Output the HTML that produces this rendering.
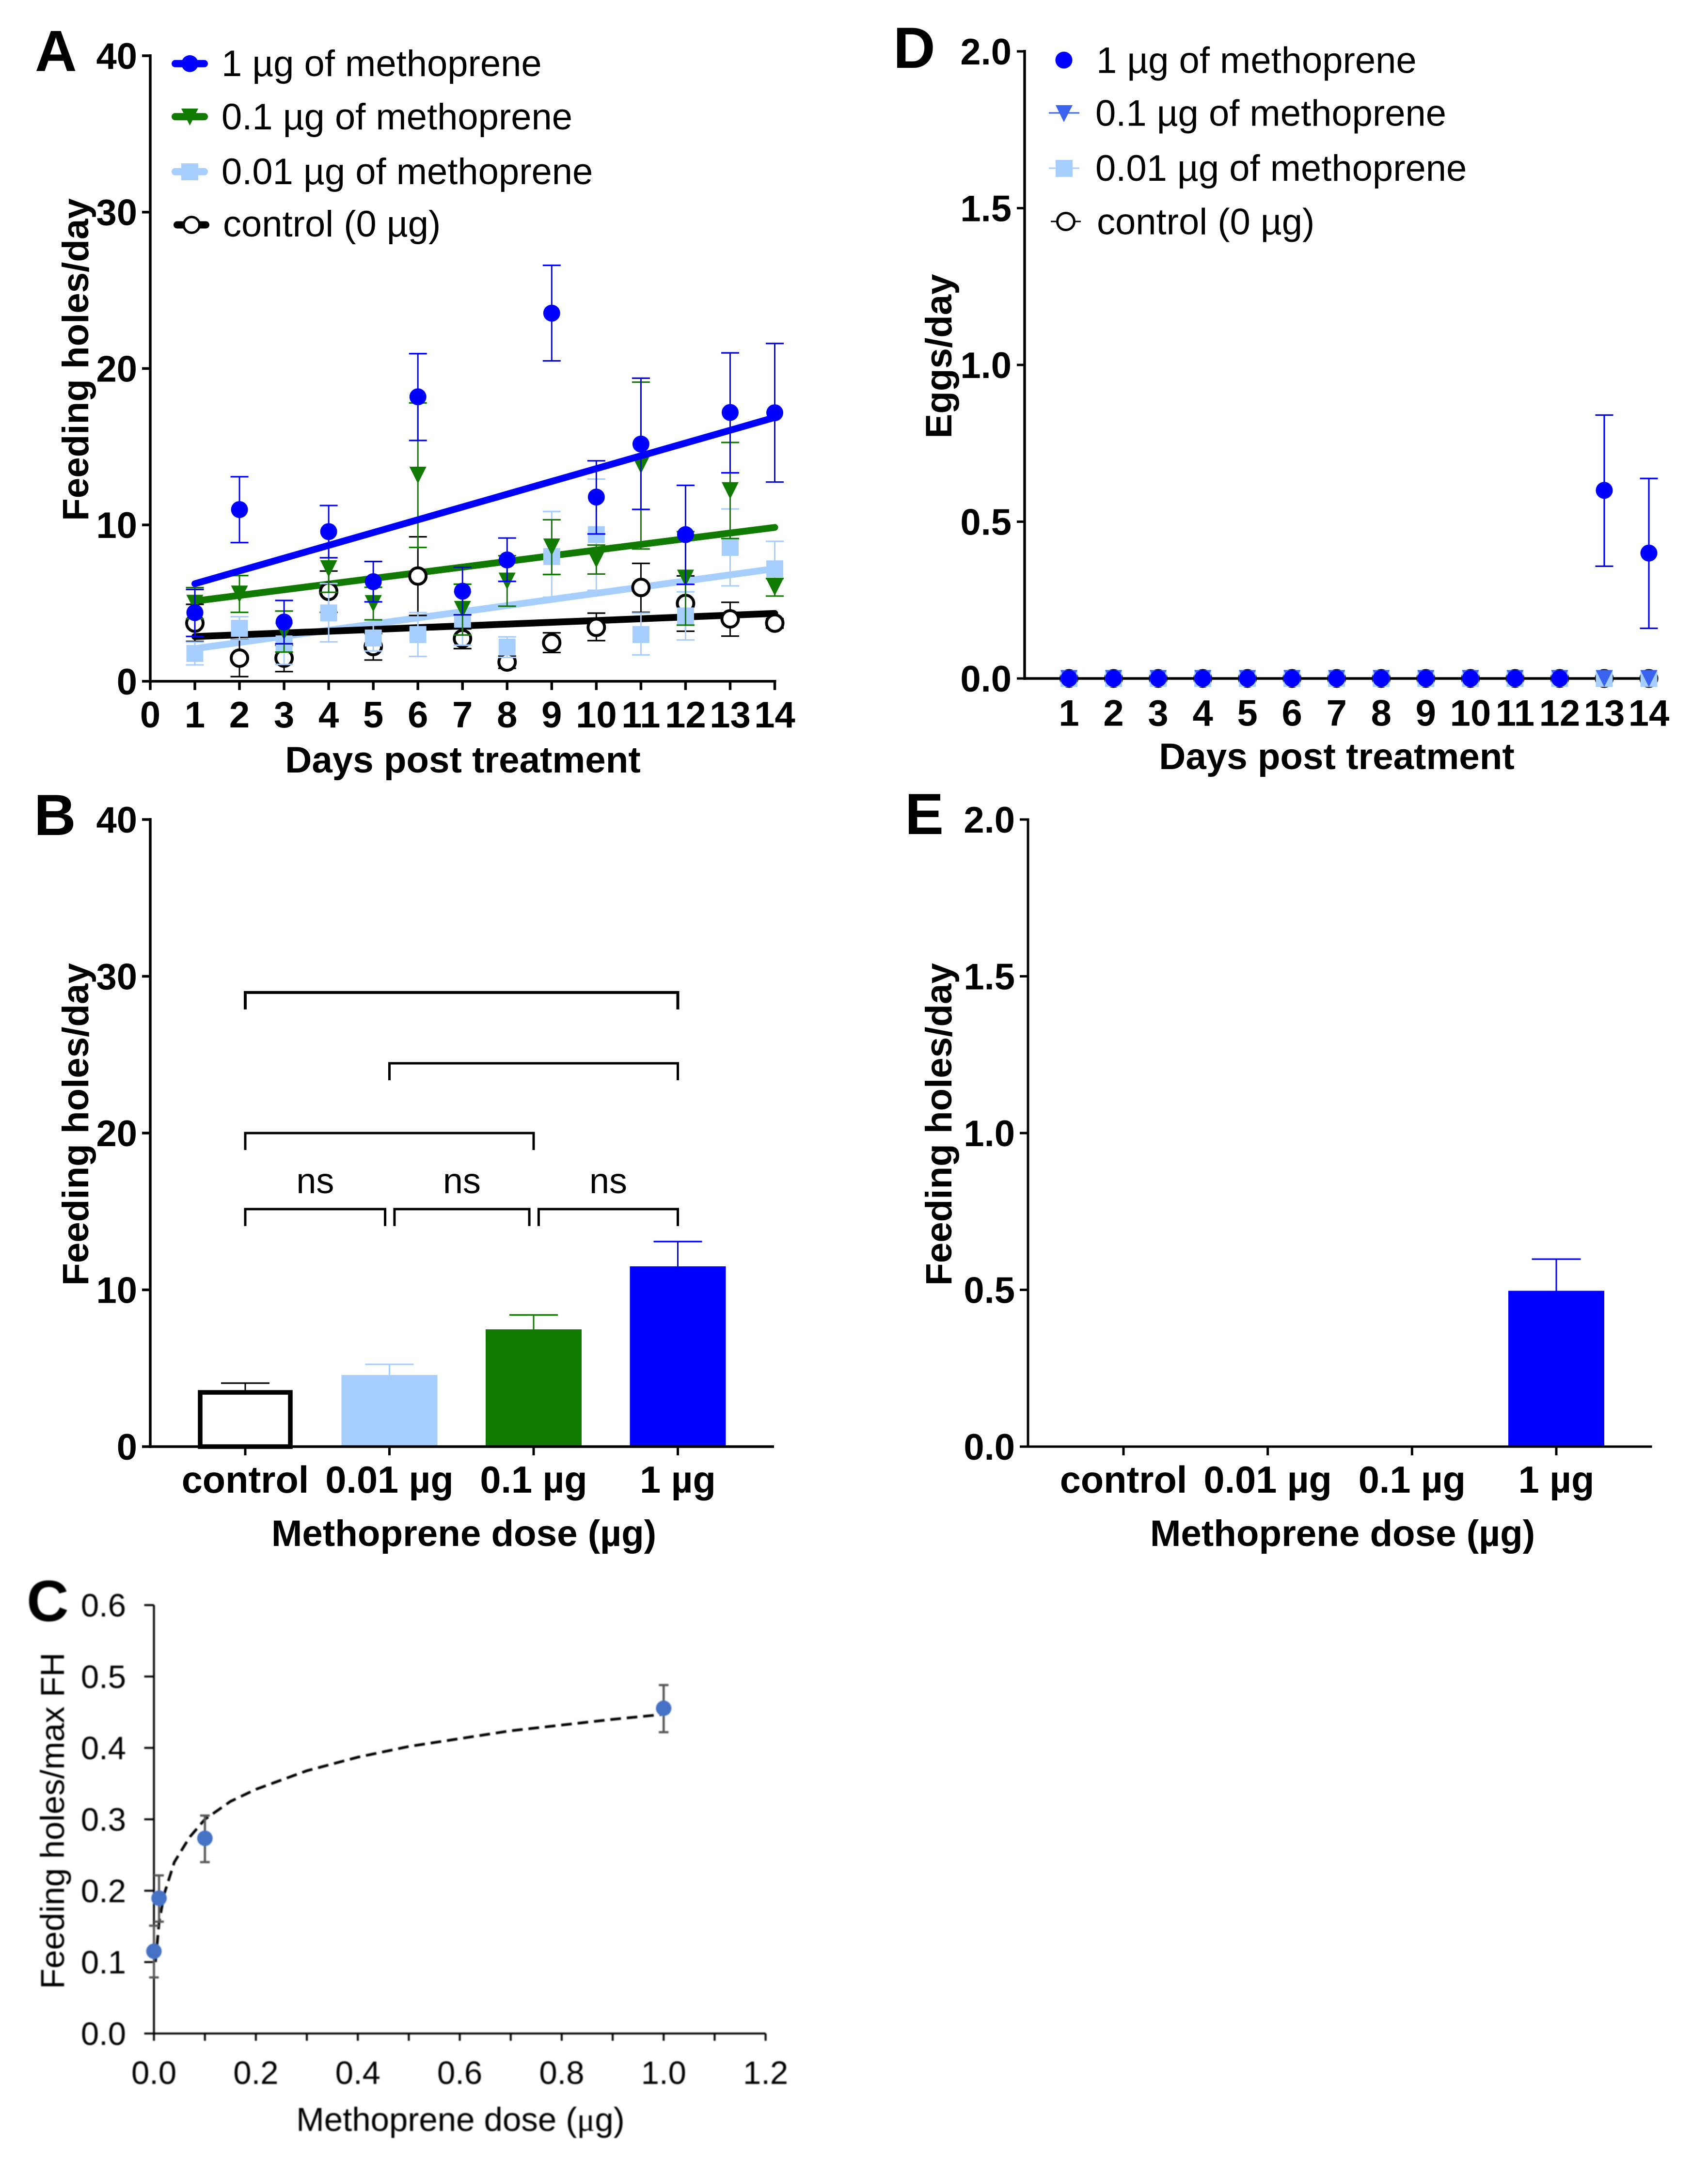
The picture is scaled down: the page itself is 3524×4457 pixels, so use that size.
<!DOCTYPE html>
<html lang="en">
<head>
<meta charset="utf-8">
<title>Methoprene dose response</title>
<style>
html,body{margin:0;padding:0;background:#fff;}
svg{display:block;}
text{font-family:"Liberation Sans",sans-serif;fill:#000;}
.panel-letter{font-weight:bold;font-size:120px;}
.tick{font-weight:bold;font-size:76px;}
.title{font-weight:bold;font-size:76.3px;}
.xcat{font-weight:bold;font-size:77.5px;}
.legend{font-size:76px;}
.ns{font-size:74px;}
.reg{font-size:67px;}
.title-c{font-size:69px;}
.mu{font-family:"Liberation Serif",serif;}
</style>
</head>
<body>
<svg id="figure" xmlns="http://www.w3.org/2000/svg" width="3524" height="4457" viewBox="0 0 3524 4457">
  <defs><filter id="soft" x="-5%" y="-5%" width="110%" height="110%"><feGaussianBlur stdDeviation="1"/></filter></defs>
  <rect x="0" y="0" width="3524" height="4457" fill="#fff"/>

  <g id="panel-a">
    <text class="panel-letter" x="72" y="146.7">A</text>
    <text class="title" text-anchor="middle" transform="translate(182,742) rotate(-90)">Feeding holes/day</text>
    <text class="title" text-anchor="middle" x="955" y="1594">Days post treatment</text>
  </g>
  <g id="panel-a-legend">
    <line x1="361.5" y1="131.3" x2="421.5" y2="131.3" stroke="#0000ff" stroke-width="15" stroke-linecap="round"/>
    <circle cx="391.7" cy="131.3" r="17.4" fill="#0000ff"/>
    <text class="legend" x="457" y="157">1 µg of methoprene</text>
    <line x1="361.5" y1="240.7" x2="421.5" y2="240.7" stroke="#117a00" stroke-width="15" stroke-linecap="round"/>
    <polygon points="374,224 409,224 391.7,259" fill="#117a00"/>
    <text class="legend" x="457" y="267">0.1 µg of methoprene</text>
    <line x1="361.5" y1="354.3" x2="421.5" y2="354.3" stroke="#a6cfff" stroke-width="15" stroke-linecap="round"/>
    <rect x="374" y="337" width="35" height="35" fill="#a6cfff"/>
    <text class="legend" x="457" y="380">0.01 µg of methoprene</text>
    <line x1="365.5" y1="464" x2="424.5" y2="464" stroke="#000" stroke-width="15" stroke-linecap="round"/>
    <circle cx="395.3" cy="464" r="16.3" fill="#fff" stroke="#000" stroke-width="5"/>
    <text class="legend" x="460" y="488">control (0 µg)</text>
  </g>

  <g id="panel-d">
    <text class="panel-letter" x="1843" y="140">D</text>
    <text class="title" text-anchor="middle" transform="translate(1963,735) rotate(-90)">Eggs/day</text>
    <text class="title" text-anchor="middle" x="2758" y="1587">Days post treatment</text>
  </g>
  <g id="panel-d-legend">
    <circle cx="2195" cy="124" r="17.5" fill="#0000ff"/>
    <text class="legend" x="2262" y="150.7">1 µg of methoprene</text>
    <line x1="2164" y1="233" x2="2227" y2="233" stroke="#3a63ef" stroke-width="3"/>
    <polygon points="2178,217 2213,217 2195,252" fill="#3a63ef"/>
    <text class="legend" x="2260" y="259.5">0.1 µg of methoprene</text>
    <line x1="2164" y1="347" x2="2227" y2="347" stroke="#a6cfff" stroke-width="3"/>
    <rect x="2178" y="330" width="35" height="35" fill="#a6cfff"/>
    <text class="legend" x="2260" y="373">0.01 µg of methoprene</text>
    <line x1="2168" y1="457" x2="2230" y2="457" stroke="#000" stroke-width="3"/>
    <circle cx="2199" cy="457" r="17.5" fill="#fff" stroke="#000" stroke-width="5"/>
    <text class="legend" x="2263" y="483.5">control (0 µg)</text>
  </g>

  <g id="panel-b">
    <text class="panel-letter" x="70" y="1723">B</text>
    <text class="title" text-anchor="middle" transform="translate(182,2320) rotate(-90)">Feeding holes/day</text>
    <text class="title" text-anchor="middle" x="957" y="3190">Methoprene dose (µg)</text>
  </g>

  <g id="panel-e">
    <text class="panel-letter" x="1867" y="1721">E</text>
    <text class="title" text-anchor="middle" transform="translate(1963,2320) rotate(-90)">Feeding holes/day</text>
    <text class="title" text-anchor="middle" x="2770" y="3190">Methoprene dose (µg)</text>
  </g>

  <g id="panel-c" filter="url(#soft)">
    <text class="panel-letter" x="55" y="3345">C</text>
    <text class="title-c" text-anchor="middle" transform="translate(132,3757) rotate(-90)">Feeding holes/max FH</text>
    <text class="title-c" text-anchor="middle" x="950" y="4397">Methoprene dose (<tspan class="mu">μ</tspan>g)</text>
  </g>
</svg>

<script>
// ---------- Panel A data (feeding holes per day) ----------
const dayCategories = [1,2,3,4,5,6,7,8,9,10,11,12,13,14];
const holes1Mean  = [4.39,10.98,3.79,9.57,6.37,18.19,5.76,7.76,23.54,11.78,15.17,9.38,17.19,17.17];
const holes1Upper = [5.87,13.08,5.17,11.24,7.66,20.95,7.29,9.16,26.6,14.1,19.38,12.53,21.0,21.6];
const holes1Lower = [2.87,8.87,2.4,7.9,5.08,15.4,4.25,6.39,20.49,9.42,10.99,6.2,13.33,12.74];
const holes01Mean  = [4.99,5.58,3.18,7.2,4.97,13.18,4.6,6.41,8.59,7.79,13.82,6.6,12.19,6.01];
const holes01Upper = [5.99,6.76,4.49,8.7,6.01,17.8,6.21,8.03,10.33,8.71,19.13,9.57,15.27,6.57];
const holes01Lower = [4.0,4.41,1.87,5.69,3.93,8.56,2.96,4.8,6.83,6.86,8.46,3.59,9.13,5.45];
const holes001Mean  = [1.78,3.39,2.39,4.37,2.77,2.99,3.97,2.19,7.98,9.38,2.99,4.18,8.56,7.19];
const holes001Upper = [2.5,4.13,3.7,6.25,3.6,4.39,5.72,2.84,10.86,12.93,4.36,5.72,11.02,8.95];
const holes001Lower = [1.05,2.65,1.08,2.52,1.94,1.59,2.31,1.53,5.38,5.82,1.69,2.64,6.1,5.45];
const holesCtrlMean  = [3.72,1.48,1.48,5.75,2.22,6.73,2.73,1.23,2.47,3.45,6.0,4.98,3.99,3.72];
const holesCtrlUpper = [4.92,2.67,2.3,7.05,3.05,9.24,3.35,1.61,3.1,4.36,7.54,6.74,5.05,4.0];
const holesCtrlLower = [2.55,0.3,0.62,4.41,1.36,4.21,2.09,0.83,1.84,2.6,4.41,3.2,2.89,3.4];
const trendDays = [1,14];
const trend1    = [6.24,16.87];
const trend01   = [5.13,9.84];
const trend001  = [2.09,7.2];
const trendCtrl = [2.86,4.34];
const panelAXTicks = [0,1,2,3,4,5,6,7,8,9,10,11,12,13,14];
const panelAYTicks = [0,10,20,30,40];

// ---------- Panel D data (eggs per day) ----------
const eggs1Mean  = [0,0,0,0,0,0,0,0,0,0,0,0,0.6,0.4];
const eggs1Upper = [0,0,0,0,0,0,0,0,0,0,0,0,0.84,0.638];
const eggs1Lower = [0,0,0,0,0,0,0,0,0,0,0,0,0.358,0.16];
const eggs01Mean  = [0,0,0,0,0,0,0,0,0,0,0,0,0,0];
const eggs001Mean = [0,0,0,0,0,0,0,0,0,0,0,0,0,0];
const eggsCtrlMean = [0,0,0,0,0,0,0,0,0,0,0,0,0,0];
const panelDYTicks = ["0.0","0.5","1.0","1.5","2.0"];

// ---------- Panel B / E data ----------
const doseCategories = ["control","0.01 µg","0.1 µg","1 µg"];
const holesByDoseMean  = [3.46,4.57,7.48,11.5];
const holesByDoseUpper = [4.05,5.25,8.4,13.08];
const panelBYTicks = [0,10,20,30,40];
const bracketFrom  = [0,1,0,0,1.035,2.035];
const bracketTo    = [3,3,2,0.97,1.97,3];
const bracketLevel = [28.97,24.45,20.0,15.15,15.15,15.15];
const bracketLabels = ["","","","ns","ns","ns"];

const eFeedingMean  = [0,0,0,0.497];
const eFeedingUpper = [0,0,0,0.598];
const panelEYTicks = ["0.0","0.5","1.0","1.5","2.0"];

// ---------- Panel C data ----------
const normDose  = [0,0.01,0.1,1.0];
const normMean  = [0.1152,0.1895,0.2734,0.4555];
const normUpper = [0.151,0.2214,0.3053,0.488];
const normLower = [0.0786,0.1566,0.24,0.422];
const fitDose  = [0.003,0.01,0.02,0.04,0.07,0.1,0.15,0.2,0.3,0.4,0.5,0.6,0.7,0.8,0.9,1.0];
const fitValue = [0.10,0.155,0.195,0.24,0.275,0.30,0.325,0.342,0.368,0.387,0.402,0.413,0.424,0.432,0.44,0.447];
const panelCXTicks = ["0.0","0.2","0.4","0.6","0.8","1.0","1.2"];
const panelCYTicks = ["0.0","0.1","0.2","0.3","0.4","0.5","0.6"];
const panelCXMinorTicks = [0,0.1,0.2,0.3,0.4,0.5,0.6,0.7,0.8,0.9,1.0,1.1,1.2];

// ---------- drawing helpers ----------
const NS = 'http://www.w3.org/2000/svg';
function add(parent, tag, name, attrs, text) {
  const el = document.createElementNS(NS, tag);
  for (const k in attrs) el.setAttribute(k, attrs[k]);
  
  
  if (text !== undefined) el.textContent = text;
  parent.appendChild(el);
  return el;
}
function linear(d0, d1, r0, r1) {
  return function (v) { return r0 + (v - d0) * (r1 - r0) / (d1 - d0); };
}
function seg(p, name, x1, y1, x2, y2, color, w, cap) {
  return add(p, 'line', name, {x1:x1, y1:y1, x2:x2, y2:y2, stroke:color, 'stroke-width':w, 'stroke-linecap':cap || 'butt'});
}
function errorBar(p, name, x, yUp, yLo, color, stemW, capW, capH) {
  seg(p, name + '-stem', x, yUp, x, yLo, color, stemW);
  seg(p, name + '-cap-upper', x - capW / 2, yUp, x + capW / 2, yUp, color, capH);
  seg(p, name + '-cap-lower', x - capW / 2, yLo, x + capW / 2, yLo, color, capH);
}
function upperError(p, name, x, yUp, yBase, color, stemW, capW, capH) {
  seg(p, name + '-stem', x, yUp, x, yBase, color, stemW);
  seg(p, name + '-cap', x - capW / 2, yUp, x + capW / 2, yUp, color, capH);
}
function marker(p, kind, name, x, y, color) {
  const s = 17.5;
  if (kind === 'circle') return add(p, 'circle', name, {cx:x, cy:y, r:s, fill:color});
  if (kind === 'square') return add(p, 'rect', name, {x:x - s, y:y - s, width:2 * s, height:2 * s, fill:color});
  if (kind === 'triangle') return add(p, 'polygon', name, {points:(x - s) + ',' + (y - s) + ' ' + (x + s) + ',' + (y - s) + ' ' + x + ',' + (y + s), fill:color});
  return add(p, 'circle', name, {cx:x, cy:y, r:17, fill:'#fff', stroke:color, 'stroke-width':6});
}
function tickLabel(p, name, x, y, anchor, text, cls) {
  return add(p, 'text', name, {x:x, y:y, 'text-anchor':anchor, 'class':cls || 'tick'}, text);
}

// ---------- Panel A ----------
(function () {
  const p = document.getElementById('panel-a');
  const X = linear(0, 14, 310, 1598.5);
  const Y = linear(0, 40, 1405.8, 115);
  const BLUE = '#0000ff', GREEN = '#117a00', LIGHT = '#a6cfff', BLACK = '#000';
  function trend(values, color, name) {
    seg(p, name, X(trendDays[0]), Y(values[0]), X(trendDays[1]), Y(values[1]), color, 14, 'round');
  }
  function series(mean, up, lo, color, kind, name) {
    dayCategories.forEach(function (d, i) {
      errorBar(p, name + '-error-day-' + d, X(d), Y(up[i]), Y(lo[i]), color, 3, 37, 3.2);
    });
    dayCategories.forEach(function (d, i) {
      marker(p, kind, name + '-point-day-' + d, X(d), Y(mean[i]), color);
    });
  }
  trend(trend001, LIGHT, 'trend-001ug');
  trend(trendCtrl, BLACK, 'trend-control');
  trend(trend01, GREEN, 'trend-01ug');
  series(holesCtrlMean, holesCtrlUpper, holesCtrlLower, BLACK, 'open', 'control');
  series(holes001Mean, holes001Upper, holes001Lower, LIGHT, 'square', 'dose-001ug');
  series(holes01Mean, holes01Upper, holes01Lower, GREEN, 'triangle', 'dose-01ug');
  trend(trend1, BLUE, 'trend-1ug');
  series(holes1Mean, holes1Upper, holes1Lower, BLUE, 'circle', 'dose-1ug');
  seg(p, 'panel-a-y-axis', 310, Y(0) + 3, 310, Y(40) - 3, BLACK, 5.5);
  seg(p, 'panel-a-x-axis', 307, Y(0), X(14) + 3, Y(0), BLACK, 5.5);
  panelAYTicks.forEach(function (v) {
    seg(p, 'panel-a-y-tick-' + v, 293, Y(v), 310, Y(v), BLACK, 5.5);
    tickLabel(p, 'panel-a-y-label-' + v, 283, Y(v) + 27, 'end', String(v));
  });
  panelAXTicks.forEach(function (v) {
    seg(p, 'panel-a-x-tick-' + v, X(v), Y(0), X(v), Y(0) + 18, BLACK, 5.5);
    tickLabel(p, 'panel-a-x-label-' + v, X(v), 1501, 'middle', String(v));
  });
})();

// ---------- Panel D ----------
(function () {
  const p = document.getElementById('panel-d');
  const X = linear(1, 14, 2205.5, 3402);
  const Y = linear(0, 2, 1400, 106);
  const BLACK = '#000';
  seg(p, 'panel-d-y-axis', 2114, Y(0) + 3, 2114, Y(2) - 3, BLACK, 5.5);
  seg(p, 'panel-d-x-axis', 2114, Y(0), X(14), Y(0), BLACK, 5.5);
  panelDYTicks.forEach(function (t) {
    const v = parseFloat(t);
    seg(p, 'panel-d-y-tick-' + t, 2098, Y(v), 2114, Y(v), BLACK, 5);
    tickLabel(p, 'panel-d-y-label-' + t, 2087, Y(v) + 27, 'end', t);
  });
  dayCategories.forEach(function (d, i) {
    tickLabel(p, 'panel-d-x-label-' + d, X(d), 1497.5, 'middle', String(d));
    add(p, 'circle', 'control-eggs-day-' + d, {cx:X(d), cy:Y(eggsCtrlMean[i]), r:17, fill:'#fff', stroke:'#000', 'stroke-width':5});
  });
  dayCategories.forEach(function (d, i) { marker(p, 'square', 'dose-001ug-eggs-day-' + d, X(d), Y(eggs001Mean[i]), '#a6cfff'); });
  dayCategories.forEach(function (d, i) { marker(p, 'triangle', 'dose-01ug-eggs-day-' + d, X(d), Y(eggs01Mean[i]), '#3a63ef'); });
  dayCategories.forEach(function (d, i) {
    if (eggs1Upper[i] !== eggs1Lower[i]) errorBar(p, 'dose-1ug-eggs-error-day-' + d, X(d), Y(eggs1Upper[i]), Y(eggs1Lower[i]), '#0000ff', 3.2, 37, 3.2);
    marker(p, 'circle', 'dose-1ug-eggs-day-' + d, X(d), Y(eggs1Mean[i]), '#0000ff');
  });
})();

// ---------- Panel B ----------
(function () {
  const p = document.getElementById('panel-b');
  const X = linear(0, 3, 506, 1398.5);
  const Y = linear(0, 40, 2985, 1691);
  const colors = ['#000', '#a6cfff', '#117a00', '#0000ff'];
  const BLACK = '#000';
  doseCategories.forEach(function (c, i) {
    upperError(p, 'bar-error-' + i, X(i), Y(holesByDoseUpper[i]), Y(holesByDoseMean[i]), colors[i], 3, 100, 3.2);
    if (i === 0) {
      add(p, 'rect', 'bar-control', {x:X(i) - 93, y:Y(holesByDoseMean[i]), width:186, height:Y(0) - Y(holesByDoseMean[i]), fill:'#fff', stroke:'#000', 'stroke-width':9.5});
    } else {
      add(p, 'rect', 'bar-dose-' + i, {x:X(i) - 99, y:Y(holesByDoseMean[i]), width:198, height:Y(0) - Y(holesByDoseMean[i]), fill:colors[i]});
    }
  });
  bracketLevel.forEach(function (lv, i) {
    const x1 = X(bracketFrom[i]), x2 = X(bracketTo[i]), y = Y(lv);
    add(p, 'polyline', 'significance-bracket-' + (i + 1), {points:x1 + ',' + (y + 35) + ' ' + x1 + ',' + y + ' ' + x2 + ',' + y + ' ' + x2 + ',' + (y + 35), fill:'none', stroke:BLACK, 'stroke-width':i === 0 ? 6 : 5});
    if (bracketLabels[i]) {
      add(p, 'text', 'significance-label-' + (i + 1), {x:(x1 + x2) / 2, y:2462, 'text-anchor':'middle', 'class':'ns'}, bracketLabels[i]);
    }
  });
  seg(p, 'panel-b-y-axis', 310, Y(0) + 3, 310, Y(40) - 3, BLACK, 5.5);
  seg(p, 'panel-b-x-axis', 307, Y(0), 1597, Y(0), BLACK, 5.5);
  panelBYTicks.forEach(function (v) {
    seg(p, 'panel-b-y-tick-' + v, 293, Y(v), 310, Y(v), BLACK, 5.5);
    tickLabel(p, 'panel-b-y-label-' + v, 283, Y(v) + 27, 'end', String(v));
  });
  doseCategories.forEach(function (c, i) {
    seg(p, 'panel-b-x-tick-' + i, X(i), Y(0), X(i), Y(0) + 18, BLACK, 5);
    tickLabel(p, 'panel-b-x-label-' + i, X(i), 3080, 'middle', c, 'xcat');
  });
})();

// ---------- Panel E ----------
(function () {
  const p = document.getElementById('panel-e');
  const X = linear(0, 3, 2318, 3211);
  const Y = linear(0, 2, 2985, 1691);
  const BLACK = '#000';
  doseCategories.forEach(function (c, i) {
    if (eFeedingMean[i] > 0) {
      upperError(p, 'panel-e-bar-error-' + i, X(i), Y(eFeedingUpper[i]), Y(eFeedingMean[i]), '#0000ff', 3, 101, 3.2);
      add(p, 'rect', 'panel-e-bar-' + i, {x:X(i) - 99, y:Y(eFeedingMean[i]), width:198, height:Y(0) - Y(eFeedingMean[i]), fill:'#0000ff'});
    }
  });
  seg(p, 'panel-e-y-axis', 2121, Y(0) + 2.5, 2121, Y(2) - 2.5, BLACK, 5);
  seg(p, 'panel-e-x-axis', 2119, Y(0), 3408.5, Y(0), BLACK, 5);
  panelEYTicks.forEach(function (t) {
    const v = parseFloat(t);
    seg(p, 'panel-e-y-tick-' + t, 2104, Y(v), 2121, Y(v), BLACK, 5);
    tickLabel(p, 'panel-e-y-label-' + t, 2094, Y(v) + 27, 'end', t);
  });
  doseCategories.forEach(function (c, i) {
    seg(p, 'panel-e-x-tick-' + i, X(i), Y(0), X(i), Y(0) + 18, BLACK, 5);
    tickLabel(p, 'panel-e-x-label-' + i, X(i), 3080, 'middle', c, 'xcat');
  });
})();

// ---------- Panel C ----------
(function () {
  const p = document.getElementById('panel-c');
  const X = linear(0, 1.2, 317.6, 1579.6);
  const Y = linear(0, 0.6, 4196, 3312);
  const BLACK = '#000';
  seg(p, 'panel-c-y-axis', X(0), Y(0), X(0), Y(0.6), BLACK, 4);
  seg(p, 'panel-c-x-axis', X(0), Y(0), X(1.2), Y(0), BLACK, 4);
  panelCYTicks.forEach(function (t) {
    const v = parseFloat(t);
    seg(p, 'panel-c-y-tick-' + t, X(0) - 20, Y(v), X(0), Y(v), BLACK, 4);
    tickLabel(p, 'panel-c-y-label-' + t, 260, Y(v) + 23.5, 'end', t, 'reg');
  });
  panelCXMinorTicks.forEach(function (v) {
    seg(p, 'panel-c-x-tick-' + v, X(v), Y(0), X(v), Y(0) + 15, BLACK, 4);
  });
  panelCXTicks.forEach(function (t) {
    tickLabel(p, 'panel-c-x-label-' + t, X(parseFloat(t)), 4300, 'middle', t, 'reg');
  });
  const pts = fitDose.map(function (d, i) { return X(d) + ',' + Y(fitValue[i]); }).join(' ');
  add(p, 'polyline', 'log-fit-curve', {points:pts, fill:'none', stroke:'#000', 'stroke-width':5.5, 'stroke-dasharray':'22 12'});
  normDose.forEach(function (d, i) {
    errorBar(p, 'normalized-error-' + i, X(d), Y(normUpper[i]), Y(normLower[i]), '#555', 4.5, 20, 4.5);
  });
  normDose.forEach(function (d, i) {
    add(p, 'circle', 'normalized-point-' + i, {cx:X(d), cy:Y(normMean[i]), r:16, fill:'#4472c4'});
  });
})();
</script>
</body>
</html>
